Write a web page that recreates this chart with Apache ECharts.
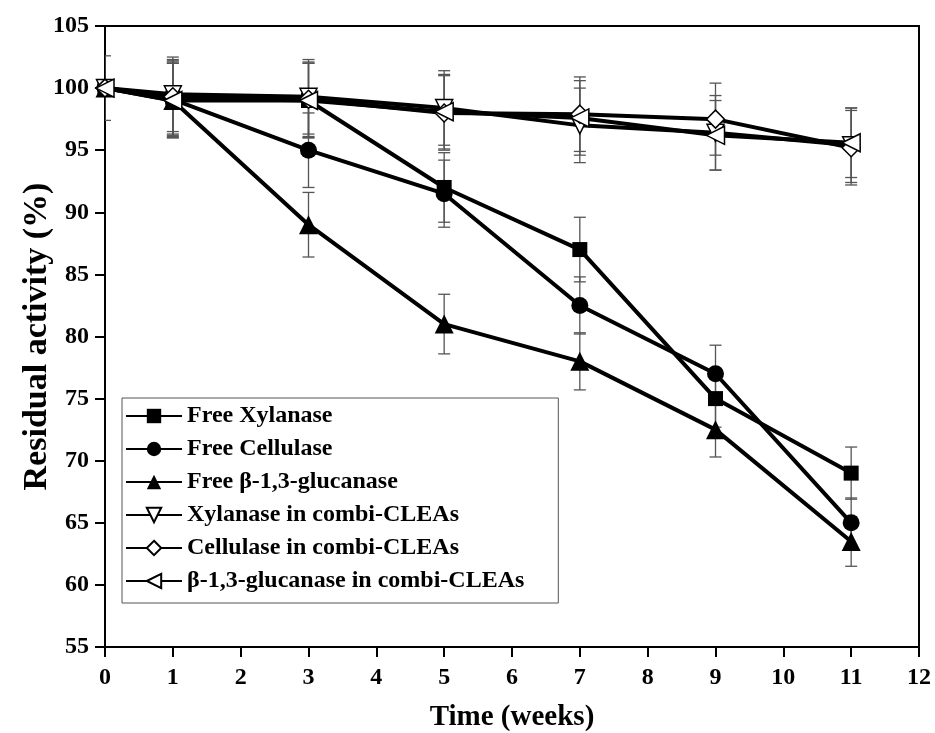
<!DOCTYPE html>
<html>
<head>
<meta charset="utf-8">
<script src="https://cdn.jsdelivr.net/npm/echarts@6/dist/echarts.min.js"></script>
<style>
  html, body { margin: 0; padding: 0; background: #fff; }
  #chart { width: 935px; height: 733px; }
</style>
</head>
<body>
<div id="chart"></div>
<script>
const weeks = [0, 1, 3, 5, 7, 9, 11]
const seriesNames = ['Free Xylanase', 'Free Cellulase', 'Free β-1,3-glucanase',
  'Xylanase in combi-CLEAs', 'Cellulase in combi-CLEAs', 'β-1,3-glucanase in combi-CLEAs']

const freeXylanase = [100, 99.2, 99, 92, 87, 75, 69]
const freeCellulase = [100, 99.1, 95, 91.5, 82.5, 77, 65]
const freeGlucanase = [100, 99, 89, 81, 78, 72.5, 63.5]
const combiXylanase = [100, 99.5, 99.3, 98.4, 97, 96.4, 95.4]
const combiCellulase = [100, 99.3, 99.1, 98, 97.9, 97.5, 95.2]
const combiGlucanase = [100, 99, 99, 98.1, 97.6, 96.2, 95.6]

const errFreeXylanase = [0, 3, 3, 2.8, 2.6, 2.3, 2.1]
const errFreeCellulase = [0, 3, 3, 2.7, 2.3, 2.3, 2]
const errFreeGlucanase = [0, 3, 2.6, 2.4, 2.3, 2.2, 2]
const errCombiXylanase = [2.6, 3, 3, 3, 3, 3, 3]
const errCombiCellulase = [0, 3, 3, 3, 3, 2.9, 3]
const errCombiGlucanase = [0, 3, 3, 3, 3, 2.8, 2.8]

const yTicks = [55, 60, 65, 70, 75, 80, 85, 90, 95, 100, 105]

const values = [freeXylanase, freeCellulase, freeGlucanase, combiXylanase, combiCellulase, combiGlucanase]
const errors = [errFreeXylanase, errFreeCellulase, errFreeGlucanase, errCombiXylanase, errCombiCellulase, errCombiGlucanase]

const symbols = [
  { symbol: 'rect', size: 15, fill: '#000' },
  { symbol: 'circle', size: 17, fill: '#000' },
  { symbol: 'triangle', size: 19, fill: '#000' },
  { symbol: 'path://M0,0 L10,0 L5,10 Z', size: 17, fill: '#fff' },
  { symbol: 'diamond', size: 18, fill: '#fff' },
  { symbol: 'path://M0,5 L10,0 L10,10 Z', size: 18, fill: '#fff' }
]

const chart = echarts.init(document.getElementById('chart'))

const font = 'Liberation Serif, Times New Roman, serif'

const errData = []
values.forEach(function (vals, i) {
  vals.forEach(function (v, j) {
    if (errors[i][j] > 0) errData.push([weeks[j], v, errors[i][j]])
  })
})

const lineSeries = seriesNames.map(function (name, i) {
  return {
    name: name,
    type: 'line',
    data: weeks.map(function (w, j) { return [w, values[i][j]] }),
    symbol: symbols[i].symbol,
    symbolSize: symbols[i].size,
    showAllSymbol: true,
    lineStyle: { color: '#000', width: 4 },
    itemStyle: { color: symbols[i].fill, borderColor: '#000', borderWidth: symbols[i].fill === '#fff' ? 1.5 : 0 },
    emphasis: { disabled: true },
    z: 3
  }
})

const option = {
  animation: false,
  backgroundColor: '#fff',
  grid: {
    left: 105, right: 16, top: 26, bottom: 86,
    outerBoundsMode: 'none',
    show: true, borderColor: '#000', borderWidth: 2, backgroundColor: 'transparent'
  },
  legend: {
    orient: 'vertical',
    left: 122, top: 398,
    data: seriesNames,
    itemWidth: 56, itemHeight: 18, itemGap: 9,
    padding: [6, 34, 10, 3],
    borderColor: '#555', borderWidth: 1,
    textStyle: { fontFamily: font, fontWeight: 'bold', fontSize: 24, color: '#000' }
  },
  xAxis: {
    type: 'value', min: 0, max: 12, interval: 1,
    name: 'Time (weeks)', nameLocation: 'middle', nameGap: 56,
    nameTextStyle: { fontFamily: font, fontWeight: 'bold', fontSize: 29, color: '#000' },
    axisLine: { lineStyle: { color: '#000', width: 2 } },
    axisTick: { inside: false, length: 10, lineStyle: { color: '#000', width: 2 } },
    axisLabel: { fontFamily: font, fontWeight: 'bold', fontSize: 24, color: '#000', margin: 19 },
    splitLine: { show: false }
  },
  yAxis: {
    type: 'value', min: yTicks[0], max: yTicks[yTicks.length - 1], interval: 5,
    name: 'Residual activity (%)', nameLocation: 'middle', nameGap: 51,
    nameMoveOverlap: false,
    nameTextStyle: { fontFamily: font, fontWeight: 'bold', fontSize: 34, color: '#000' },
    axisLine: { lineStyle: { color: '#000', width: 2 } },
    axisTick: { inside: false, length: 10, lineStyle: { color: '#000', width: 2 } },
    axisLabel: { fontFamily: font, fontWeight: 'bold', fontSize: 24, color: '#000', margin: 16 },
    splitLine: { show: false }
  },
  series: [
    {
      type: 'custom',
      name: 'errors',
      data: errData,
      clip: true,
      z: 2,
      silent: true,
      renderItem: function (params, api) {
        const x = api.value(0), y = api.value(1), e = api.value(2)
        const top = api.coord([x, y + e])
        const bot = api.coord([x, y - e])
        const style = { stroke: '#555', lineWidth: 1.3 }
        return {
          type: 'group',
          children: [
            { type: 'line', shape: { x1: top[0], y1: top[1], x2: bot[0], y2: bot[1] }, style: style },
            { type: 'line', shape: { x1: top[0] - 6, y1: top[1], x2: top[0] + 6, y2: top[1] }, style: style },
            { type: 'line', shape: { x1: bot[0] - 6, y1: bot[1], x2: bot[0] + 6, y2: bot[1] }, style: style }
          ]
        }
      }
    }
  ].concat(lineSeries)
}

chart.setOption(option)
</script>
</body>
</html>
